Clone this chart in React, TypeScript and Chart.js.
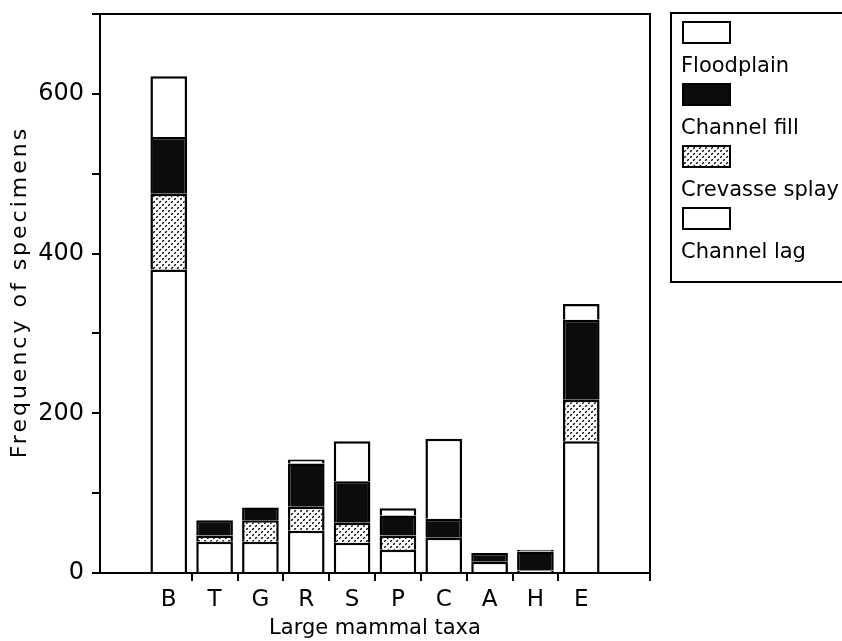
import React, { useEffect, useRef } from 'react';
import { Chart, registerables } from 'chart.js';

Chart.register(...registerables);

// ---- data ----
const taxa = ['B', 'T', 'G', 'R', 'S', 'P', 'C', 'A', 'H', 'E'];
const channelLag = [380, 39, 39, 53, 38, 29, 44, 14, 3, 165];
const crevasseSplay = [95, 8, 27, 30, 25, 18, 0, 0, 0, 52];
const channelFill = [71, 19, 16, 54, 52, 25, 24, 11, 24, 100];
const floodplain = [76, 0, 0, 5, 50, 9, 100, 0, 2, 20];
const labeledTicks = [0, 200, 400, 600];
const yMax = 700;
const yStep = 100;
const xTitle = 'Large mammal taxa';
const yTitle = 'Frequency of specimens';

const FONT = '"DejaVu Sans", sans-serif';

function makeDotPattern(): CanvasPattern | string {
  const c = document.createElement('canvas');
  c.width = 6;
  c.height = 6;
  const g = c.getContext('2d');
  if (!g) return '#ccc';
  g.fillStyle = '#fff';
  g.fillRect(0, 0, 6, 6);
  g.strokeStyle = '#000';
  g.lineWidth = 1.4;
  g.beginPath();
  g.moveTo(0.2, 1.8);
  g.lineTo(1.8, 0.2);
  g.moveTo(3.2, 4.8);
  g.lineTo(4.8, 3.2);
  g.stroke();
  const p = g.createPattern(c, 'repeat');
  return p || '#ccc';
}

const pad = (arr: number[]) => [null, ...arr, null];

export default function App() {
  const ref = useRef<HTMLCanvasElement | null>(null);

  useEffect(() => {
    if (!ref.current) return;
    const dots = makeDotPattern();

    const framePlugin = {
      id: 'frame',
      afterDraw(chart: any) {
        const { ctx, chartArea } = chart;
        ctx.save();
        ctx.strokeStyle = '#000';
        ctx.lineWidth = 2;
        ctx.beginPath();
        ctx.moveTo(chartArea.left, chartArea.top);
        ctx.lineTo(chartArea.right, chartArea.top);
        ctx.lineTo(chartArea.right, chartArea.bottom + 8);
        ctx.stroke();
        // y axis title, spaced like the reference lettering
        const cy = (chartArea.top + chartArea.bottom) / 2;
        ctx.translate(20, cy);
        ctx.rotate(-Math.PI / 2);
        ctx.fillStyle = '#000';
        ctx.font = `22px ${FONT}`;
        (ctx as any).letterSpacing = '3px';
        ctx.textAlign = 'center';
        ctx.textBaseline = 'middle';
        ctx.fillText(yTitle, 1.5, 0);
        ctx.restore();
      },
    };

    const legendPlugin = {
      id: 'boxLegend',
      afterDraw(chart: any) {
        const ctx = chart.ctx;
        const ds = chart.data.datasets;
        ctx.save();
        ctx.strokeStyle = '#000';
        ctx.lineWidth = 2;
        ctx.strokeRect(671, 13, 220, 269);
        const order = [3, 2, 1, 0];
        order.forEach((di, i) => {
          const y0 = 22 + 62 * i;
          ctx.fillStyle = ds[di].backgroundColor;
          ctx.fillRect(683, y0, 47, 21);
          ctx.strokeRect(683, y0, 47, 21);
          ctx.fillStyle = '#000';
          ctx.font = `21px ${FONT}`;
          ctx.textBaseline = 'middle';
          ctx.textAlign = 'left';
          ctx.fillText(ds[di].label, 681, y0 + 45);
        });
        ctx.restore();
      },
    };

    const common = { borderColor: '#000', borderWidth: 2.5, barPercentage: 0.8, categoryPercentage: 1.0 };

    const chart = new Chart(ref.current, {
      type: 'bar',
      data: {
        labels: ['', ...taxa, ''],
        datasets: [
          { label: 'Channel lag', data: pad(channelLag), backgroundColor: '#ffffff', ...common },
          { label: 'Crevasse splay', data: pad(crevasseSplay), backgroundColor: dots as any, ...common },
          { label: 'Channel fill', data: pad(channelFill), backgroundColor: '#0c0c0c', ...common },
          { label: 'Floodplain', data: pad(floodplain), backgroundColor: '#ffffff', ...common },
        ],
      },
      options: {
        animation: false,
        responsive: false,
        events: [],
        layout: { padding: { left: 0, top: 14, right: 192, bottom: 0 } },
        plugins: { legend: { display: false }, tooltip: { enabled: false }, title: { display: false } },
        scales: {
          x: {
            stacked: true,
            offset: true,
            afterFit: (s: any) => { s.height = 68; s.paddingLeft = 0; s.paddingRight = 0; },
            border: { display: true, color: '#000', width: 2 },
            grid: {
              offset: true,
              drawOnChartArea: false,
              drawTicks: true,
              tickLength: 8,
              lineWidth: 2,
              color: (c: any) => (c.index >= 2 && c.index <= 10 ? '#000' : 'rgba(0,0,0,0)'),
            },
            ticks: { color: '#000', font: { family: FONT, size: 23 }, padding: 5, maxRotation: 0, autoSkip: false },
            title: { display: true, text: xTitle, color: '#000', font: { family: FONT, size: 21 }, padding: { top: 0, bottom: 0 } },
          },
          y: {
            stacked: true,
            min: 0,
            max: yMax,
            afterFit: (s: any) => { s.width = 100; s.paddingTop = 0; s.paddingBottom = 0; },
            border: { display: true, color: '#000', width: 2 },
            grid: { drawOnChartArea: false, drawTicks: true, tickLength: 8, lineWidth: 2, color: '#000' },
            ticks: {
              stepSize: yStep,
              color: '#000',
              font: { family: FONT, size: 24 },
              padding: 8,
              callback: (v: any) => (labeledTicks.includes(Number(v)) ? String(v) : ''),
            },
            title: { display: false, text: yTitle },
          },
        },
      },
      plugins: [framePlugin, legendPlugin],
    });
    return () => chart.destroy();
  }, []);

  return (
    <div style={{ position: 'fixed', left: 0, top: 0, width: 842, height: 641, background: '#fff' }}>
      <canvas ref={ref} width={842} height={641} style={{ width: 842, height: 641, display: 'block' }} />
    </div>
  );
}
